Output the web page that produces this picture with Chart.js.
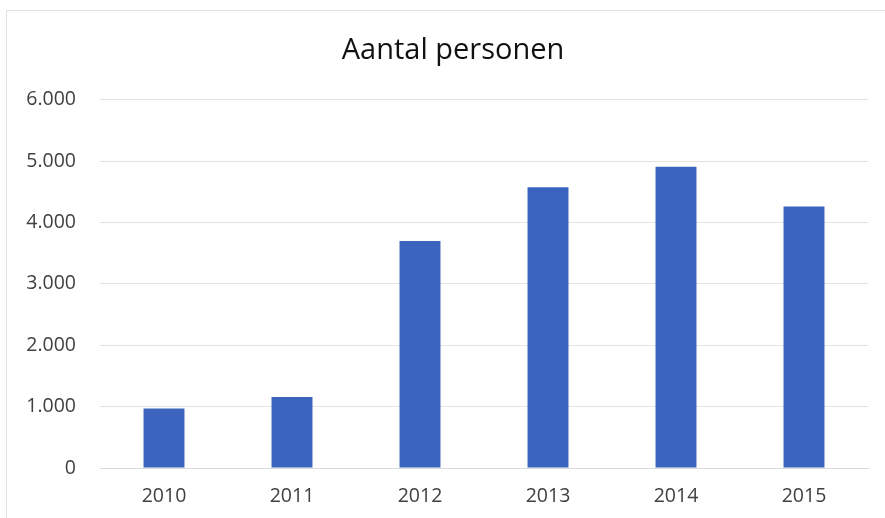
<!DOCTYPE html>
<html>
<head>
<meta charset="utf-8">
<script src="https://cdn.jsdelivr.net/npm/chart.js@4/dist/chart.umd.min.js"></script>
<style>
  html, body { margin: 0; padding: 0; background: #fff; }
  .wrap { position: relative; width: 885px; height: 518px; }
  .frame { position: absolute; left: 6px; top: 10px; right: 0; bottom: 0; border-top: 1px solid #dde3ea; border-left: 1px solid #dde3ea; }
</style>
</head>
<body>
<div class="wrap">
  <div class="frame"></div>
  <canvas id="myChart" width="885" height="518"></canvas>
</div>
<script>
const years = ['2010', '2011', '2012', '2013', '2014', '2015'];
const persons = [970, 1155, 3700, 4575, 4910, 4260];
const title = 'Aantal personen';

const fmt = v => String(v).replace(/\B(?=(\d{3})+(?!\d))/g, '.');

// the title in the original sits a bit right of the canvas centre
const shiftTitle = {
  id: 'shiftTitle',
  afterLayout(chart) {
    if (chart.titleBlock) chart.titleBlock.left += 38;
  }
};

let myChart = new Chart(
  document.getElementById('myChart'),
  {
    type: 'bar',
    data: {
      labels: years,
      datasets: [{
        label: title,
        backgroundColor: '#3B64BE',
        data: persons,
        categoryPercentage: 1,
        barPercentage: 0.32
      }]
    },
    options: {
      responsive: false,
      animation: false,
      layout: { padding: { top: 0, right: 17, bottom: 8, left: 0 } },
      plugins: {
        legend: { display: false },
        tooltip: { enabled: false },
        title: {
          display: true,
          text: title,
          color: '#111',
          font: { family: 'Open Sans', size: 29, weight: 'normal' },
          padding: { top: 33, bottom: 32 }
        }
      },
      scales: {
        x: {
          afterFit: s => { s.height = 42; },
          grid: { display: false, drawTicks: false },
          border: { display: true, color: '#d9d9d9' },
          ticks: { color: '#404040', padding: 17, font: { family: 'Open Sans', size: 19.5 } }
        },
        y: {
          min: 0,
          max: 6000,
          afterFit: s => { s.width = 100; },
          grid: { color: '#e3e3e3', drawTicks: false },
          border: { display: false },
          ticks: {
            stepSize: 1000,
            color: '#404040',
            padding: 24,
            font: { family: 'Open Sans', size: 19.5 },
            callback: v => fmt(v)
          }
        }
      }
    },
    plugins: [shiftTitle]
  }
);
</script>
</body>
</html>
